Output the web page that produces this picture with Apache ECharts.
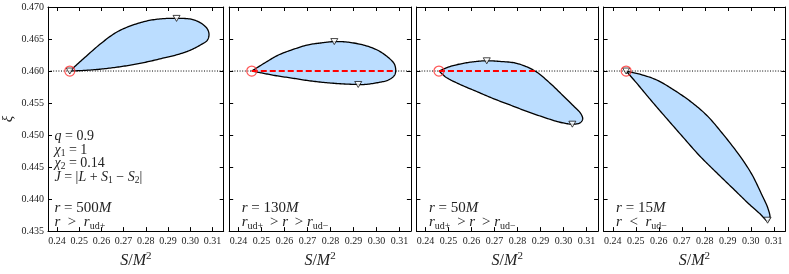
<!DOCTYPE html>
<html>
<head>
<meta charset="utf-8">
<script src="https://cdn.jsdelivr.net/npm/echarts@6/dist/echarts.min.js"></script>
<style>html,body{margin:0;padding:0;background:#fff}#c{width:789px;height:274px}</style>
</head>
<body>
<div id="c"></div>
<script>
// ---- data ----
const xTicks = [0.24, 0.25, 0.26, 0.27, 0.28, 0.29, 0.30, 0.31];
const yTicks = [0.435, 0.440, 0.445, 0.450, 0.455, 0.460, 0.465, 0.470];
const xMin = 0.236, xMax = 0.315, yMin = 0.435, yMax = 0.470;
const xiRef = 0.460;
const startPoint = [0.2458, 0.4600];

const loop500 = [[0.2458,0.4600],[0.2525,0.4621],[0.2598,0.4643],[0.2670,0.4661],[0.2743,0.4672],[0.2815,0.4679],[0.2887,0.4682],[0.2938,0.46822],[0.3003,0.4681],[0.3047,0.4675],[0.3076,0.4666],[0.3084,0.4657],[0.3076,0.4648],[0.3047,0.4641],[0.3003,0.4633],[0.2946,0.4626],[0.2887,0.4621],[0.2815,0.4615],[0.2743,0.4610],[0.2670,0.4606],[0.2598,0.4603],[0.2525,0.4601],[0.2458,0.4600]];
const loop130 = [[0.2458,0.4600],[0.2516,0.4613],[0.2574,0.4625],[0.2632,0.4633],[0.2704,0.4641],[0.2762,0.4644],[0.2817,0.4646],[0.2878,0.4645],[0.2950,0.4640],[0.3008,0.4632],[0.3052,0.4621],[0.3078,0.4611],[0.3084,0.4600],[0.3078,0.4593],[0.3052,0.4586],[0.3008,0.4582],[0.2950,0.4579],[0.2921,0.4579],[0.2849,0.4580],[0.2777,0.4582],[0.2704,0.4585],[0.2632,0.4589],[0.2559,0.4593],[0.2501,0.4597],[0.2458,0.4600]];
const loop50 = [[0.2458,0.4600],[0.2506,0.4607],[0.2564,0.4612],[0.2622,0.4615],[0.2666,0.4616],[0.2723,0.4615],[0.2796,0.4612],[0.2876,0.4600],[0.2941,0.4581],[0.2999,0.4561],[0.3050,0.4543],[0.3074,0.4534],[0.3083,0.4525],[0.3071,0.4519],[0.3038,0.4517],[0.2984,0.4520],[0.2912,0.4528],[0.2840,0.4537],[0.2767,0.4547],[0.2694,0.4557],[0.2622,0.4568],[0.2550,0.4579],[0.2490,0.4590],[0.2458,0.4600]];
const loop15 = [[0.2458,0.4600],[0.2518,0.4595],[0.2591,0.4586],[0.2663,0.4571],[0.2736,0.4553],[0.2808,0.4531],[0.2880,0.4501],[0.2953,0.4467],[0.3004,0.4439],[0.3049,0.4406],[0.3074,0.4386],[0.3083,0.4371],[0.3073,0.4366],[0.3040,0.4377],[0.2996,0.4391],[0.2924,0.4416],[0.2852,0.4441],[0.2779,0.4467],[0.2707,0.4496],[0.2634,0.4526],[0.2562,0.4556],[0.2504,0.4581],[0.2458,0.4600]];

const ext500 = [[0.2458,0.4600],[0.2938,0.46822]];
const ext130 = [[0.2817,0.4646],[0.2921,0.4579]];
const ext50  = [[0.2666,0.4616],[0.3038,0.4517]];
const ext15  = [[0.2458,0.4600],[0.3073,0.4367]];

const dash130 = [[0.2458,0.4600],[0.3084,0.4600]];
const dash50  = [[0.2458,0.4600],[0.2876,0.4600]];

const rLabels = ['500', '130', '50', '15'];
const regimeLines = [
  '{I|r}{N|  >  }{I|r}{S|ud+}',
  '{I|r}{S|ud+}{N| \u2009> }{I|r}{N| \u2009> }{I|r}{S|ud−}',
  '{I|r}{S|ud+}{N| \u2009> }{I|r}{N| \u2009> }{I|r}{S|ud−}',
  '{I|r}{N|  <  }{I|r}{S|ud−}'
];
const paramLines = [
  '{i|q}{n| = 0.9}',
  '{i|χ}{s|1}{n| = 1}',
  '{i|χ}{s|2}{n| = 0.14}',
  '{i|J}{n| = |}{i|L}{n| + }{i|S}{s|1}{n| − }{i|S}{s|2}{n||}'
];

const panels = [
  {loop: loop500, ext: ext500, dash: null},
  {loop: loop130, ext: ext130, dash: dash130},
  {loop: loop50,  ext: ext50,  dash: dash50},
  {loop: loop15,  ext: ext15,  dash: null}
];

// ---- layout ----
const FONT = 'Liberation Serif';
const gLeft = [42, 229.2, 416.4, 603.6], gW = 181.7, gTop = 7, gH = 234;
const TXT = '#222';

// centripetal Catmull-Rom drawing of a curve through screen points (rendering only)
function splinePath(P, steps) {
  const n = P.length;
  const get = k => {
    if (k < 0) return [2 * P[0][0] - P[1][0], 2 * P[0][1] - P[1][1]];
    if (k > n - 1) return [2 * P[n - 1][0] - P[n - 2][0], 2 * P[n - 1][1] - P[n - 2][1]];
    return P[k];
  };
  const d = (a, b) => Math.max(Math.pow(Math.hypot(b[0] - a[0], b[1] - a[1]), 0.5), 1e-4);
  const lerp = (a, b, ta, tb, t) => [
    (tb - t) / (tb - ta) * a[0] + (t - ta) / (tb - ta) * b[0],
    (tb - t) / (tb - ta) * a[1] + (t - ta) / (tb - ta) * b[1]
  ];
  const out = [P[0]];
  for (let k = 0; k < n - 1; k++) {
    const p0 = get(k - 1), p1 = get(k), p2 = get(k + 1), p3 = get(k + 2);
    const t0 = 0, t1 = t0 + d(p0, p1), t2 = t1 + d(p1, p2), t3 = t2 + d(p2, p3);
    for (let s = 1; s <= steps; s++) {
      const t = t1 + (t2 - t1) * s / steps;
      const A1 = lerp(p0, p1, t0, t1, t), A2 = lerp(p1, p2, t1, t2, t), A3 = lerp(p2, p3, t2, t3, t);
      const B1 = lerp(A1, A2, t0, t2, t), B2 = lerp(A2, A3, t1, t3, t);
      out.push(lerp(B1, B2, t1, t2, t));
    }
  }
  return out;
}

const chart = echarts.init(document.getElementById('c'), null, {renderer: 'canvas'});

const grids = [], xAxes = [], yAxes = [], series = [], graphics = [];
const lineCol = '#000';

panels.forEach((p, i) => {
  grids.push({left: gLeft[i], top: gTop, width: gW, height: gH, containLabel: false});
  const tickCommon = {show: true, inside: true, length: 4, lineStyle: {color: lineCol, width: 1}};
  xAxes.push({
    gridIndex: i, type: 'value', position: 'bottom', min: xMin, max: xMax,
    axisLine: {show: true, onZero: false, lineStyle: {color: lineCol, width: 1}},
    axisTick: Object.assign({customValues: xTicks}, tickCommon),
    axisLabel: {customValues: xTicks, formatter: v => v.toFixed(2), fontFamily: FONT, fontSize: 10, color: TXT, margin: 5},
    splitLine: {show: false},
    name: '{i|S}{n|/}{i|M}{p|2}', nameLocation: 'middle', nameGap: 19,
    nameTextStyle: {
      rich: {
        i: {fontFamily: FONT, fontStyle: 'italic', fontSize: 16, color: TXT, lineHeight: 18, verticalAlign: 'bottom'},
        n: {fontFamily: FONT, fontSize: 16, color: TXT, lineHeight: 18, verticalAlign: 'bottom'},
        p: {fontFamily: FONT, fontSize: 11, color: TXT, lineHeight: 8, verticalAlign: 'top'}
      }
    }
  });
  xAxes.push({
    gridIndex: i, type: 'value', position: 'top', min: xMin, max: xMax,
    axisLine: {show: true, onZero: false, lineStyle: {color: lineCol, width: 1}},
    axisTick: Object.assign({customValues: xTicks}, tickCommon),
    axisLabel: {show: false}, splitLine: {show: false}
  });
  yAxes.push({
    gridIndex: i, type: 'value', position: 'left', min: yMin, max: yMax,
    axisLine: {show: true, onZero: false, lineStyle: {color: lineCol, width: 1}},
    axisTick: Object.assign({customValues: yTicks}, tickCommon),
    axisLabel: {show: i === 0, customValues: yTicks, formatter: v => v.toFixed(3), fontFamily: FONT, fontSize: 10, color: TXT, margin: 4},
    splitLine: {show: false},
    name: i === 0 ? 'ξ' : '', nameLocation: 'middle', nameGap: 32,
    nameTextStyle: {fontFamily: FONT, fontStyle: 'italic', fontSize: 15, color: TXT}
  });
  yAxes.push({
    gridIndex: i, type: 'value', position: 'right', min: yMin, max: yMax,
    axisLine: {show: true, onZero: false, lineStyle: {color: lineCol, width: 1}},
    axisTick: Object.assign({customValues: yTicks}, tickCommon),
    axisLabel: {show: false}, splitLine: {show: false}
  });

  const xi = 2 * i, yi = 2 * i;
  series.push({
    type: 'line', xAxisIndex: xi, yAxisIndex: yi, data: [[xMin, xiRef], [xMax, xiRef]],
    showSymbol: false, silent: true, z: 1,
    lineStyle: {color: '#000', width: 1, type: [1, 1.6]}
  });
  const loop = p.loop;
  series.push({
    type: 'custom', xAxisIndex: xi, yAxisIndex: yi, data: loop, silent: true, z: 2,
    encode: {x: 0, y: 1},
    renderItem: (params, api) => {
      if (params.dataIndex !== 0) return null;
      const pts = splinePath(loop.map(pt => api.coord(pt)), 12);
      return {
        type: 'polyline',
        shape: {points: pts},
        style: {fill: '#bbddff', stroke: '#000', lineWidth: 1.3, lineJoin: 'round'}
      };
    }
  });
  if (p.dash) {
    series.push({
      type: 'line', xAxisIndex: xi, yAxisIndex: yi, data: p.dash,
      showSymbol: false, silent: true, z: 3,
      lineStyle: {color: '#ff0000', width: 2, type: [6, 3]}
    });
  }
  series.push({
    type: 'scatter', xAxisIndex: xi, yAxisIndex: yi, data: p.ext, z: 4, silent: true,
    symbol: 'triangle', symbolRotate: 180, symbolSize: [7, 6],
    itemStyle: {color: '#fff', borderColor: '#000', borderWidth: 0.9}
  });
  series.push({
    type: 'scatter', xAxisIndex: xi, yAxisIndex: yi, data: [startPoint], z: 5, silent: true,
    symbol: 'circle', symbolSize: 10,
    itemStyle: {color: 'rgba(0,0,0,0)', borderColor: '#ff2a2a', borderWidth: 1.2}
  });

  const tx = gLeft[i] + 12.5;
  graphics.push({
    type: 'text', x: tx, y: 209, silent: true,
    style: {
      text: '{I|r}{N| = ' + rLabels[i] + '}{I|M}',
      verticalAlign: 'middle', align: 'left',
      rich: {
        I: {fontFamily: FONT, fontStyle: 'italic', fontSize: 15, fill: TXT, lineHeight: 16, verticalAlign: 'top'},
        N: {fontFamily: FONT, fontSize: 15, fill: TXT, lineHeight: 16, verticalAlign: 'top'}
      }
    }
  });
  graphics.push({
    type: 'text', x: tx, y: 223, silent: true,
    style: {
      text: regimeLines[i], verticalAlign: 'middle', align: 'left',
      rich: {
        I: {fontFamily: FONT, fontStyle: 'italic', fontSize: 15, fill: TXT, lineHeight: 16, verticalAlign: 'top'},
        N: {fontFamily: FONT, fontSize: 15, fill: TXT, lineHeight: 16, verticalAlign: 'top'},
        S: {fontFamily: FONT, fontSize: 10, fill: TXT, lineHeight: 7, verticalAlign: 'bottom'}
      }
    }
  });
});

const paramY = [137, 150.5, 164, 177.5];
paramLines.forEach((t, k) => {
  graphics.push({
    type: 'text', x: 54.5, y: paramY[k], silent: true,
    style: {
      text: t, verticalAlign: 'middle', align: 'left',
      rich: {
        i: {fontFamily: FONT, fontStyle: 'italic', fontSize: 14, fill: TXT, lineHeight: 15, verticalAlign: 'top'},
        n: {fontFamily: FONT, fontSize: 14, fill: TXT, lineHeight: 15, verticalAlign: 'top'},
        s: {fontFamily: FONT, fontSize: 9.5, fill: TXT, lineHeight: 6, verticalAlign: 'bottom'}
      }
    }
  });
});

chart.setOption({
  animation: false,
  backgroundColor: '#fff',
  grid: grids, xAxis: xAxes, yAxis: yAxes, series: series,
  graphic: graphics
});
</script>
</body>
</html>
